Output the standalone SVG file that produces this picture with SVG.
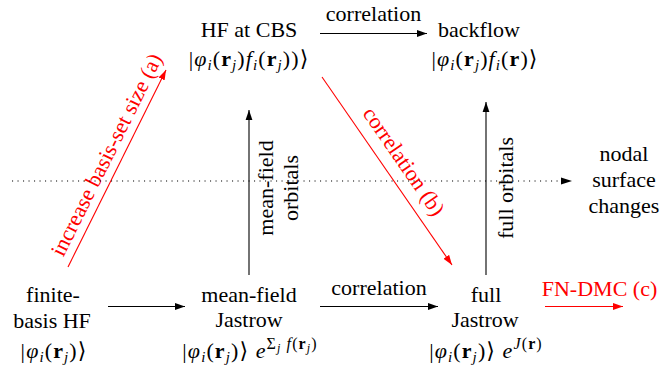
<svg xmlns="http://www.w3.org/2000/svg" width="662" height="373" viewBox="0 0 662 373">
<style>
text{font-family:"Liberation Serif","Times New Roman","DejaVu Serif",serif;font-size:22px;fill:#000}
.c{text-anchor:middle}
.f{letter-spacing:1.1px}
.red{fill:#f00}
.sub{font-size:15px;font-style:italic}
.sup{font-size:16px}
.ss{font-size:12px;font-style:italic}
.it{font-style:italic}
.bf{font-weight:bold}
.ln{stroke:#000;stroke-width:1.1;fill:none}
.rl{stroke:#f00;stroke-width:1.1;fill:none}
.dot{stroke:#000;stroke-width:1.1;fill:none;stroke-dasharray:1.1 4.4}
</style>
<defs>
<marker id="ah" markerUnits="userSpaceOnUse" markerWidth="10" markerHeight="8" refX="10" refY="4" orient="auto">
<path d="M0,0.6 L10,4 L0,7.4 z" fill="#000"/>
</marker>
<marker id="ahr" markerUnits="userSpaceOnUse" markerWidth="10" markerHeight="8" refX="10" refY="4" orient="auto">
<path d="M0,0.6 L10,4 L0,7.4 z" fill="#f00"/>
</marker>
</defs>

<g id="connectors">
<line class="ln" x1="320" y1="33.5" x2="427" y2="33.5" marker-end="url(#ah)"/>
<text class="c" x="373.5" y="21">correlation</text>
<line class="ln" x1="108" y1="306.5" x2="185" y2="306.5" marker-end="url(#ah)"/>
<line class="ln" x1="320" y1="306.5" x2="438" y2="306.5" marker-end="url(#ah)"/>
<text class="c" x="379" y="295">correlation</text>
<line class="rl" x1="545" y1="306.5" x2="623" y2="306.5" marker-end="url(#ahr)"/>
<line class="ln" x1="249" y1="275" x2="249" y2="110" marker-end="url(#ah)"/>
<text class="c" transform="translate(273,188) rotate(-90)">mean-field</text>
<text class="c" transform="translate(298,188) rotate(-90)">orbitals</text>
<line class="ln" x1="486" y1="275" x2="486" y2="102" marker-end="url(#ah)"/>
<text class="c" transform="translate(513,188) rotate(-90)">full orbitals</text>
<line class="rl" x1="68" y1="267" x2="166" y2="70" marker-end="url(#ahr)"/>
<text class="c red" transform="translate(113,158) rotate(-63.5)">increase basis-set size (a)</text>
<line class="rl" x1="322" y1="77" x2="452" y2="265" marker-end="url(#ahr)"/>
<text class="c red" transform="translate(398,165.5) rotate(55.3)">correlation (b)</text>
<line class="dot" x1="12" y1="181" x2="562" y2="181"/>
<path d="M561,177.5 L572,181 L561,184.5 z" fill="#000"/>
</g>

<g id="hf-cbs">
<text class="c" x="249" y="37">HF at CBS</text>
<text class="c f" x="249" y="66">|<tspan class="it">φ</tspan><tspan class="sub" dy="4">i</tspan><tspan dy="-4">(</tspan><tspan class="bf">r</tspan><tspan class="sub" dy="4">j</tspan><tspan dy="-4">)</tspan><tspan class="it">f</tspan><tspan class="sub" dy="4">i</tspan><tspan dy="-4">(</tspan><tspan class="bf">r</tspan><tspan class="sub" dy="4">j</tspan><tspan dy="-4">))⟩</tspan></text>
</g>

<g id="backflow">
<text class="c" x="479" y="37">backflow</text>
<text class="c f" x="485" y="66">|<tspan class="it">φ</tspan><tspan class="sub" dy="4">i</tspan><tspan dy="-4">(</tspan><tspan class="bf">r</tspan><tspan class="sub" dy="4">j</tspan><tspan dy="-4">)</tspan><tspan class="it">f</tspan><tspan class="sub" dy="4">i</tspan><tspan dy="-4">(</tspan><tspan class="bf">r</tspan><tspan>)⟩</tspan></text>
</g>

<g id="finite-basis-hf">
<text class="c" x="53" y="302">finite-</text>
<text class="c" x="52" y="328">basis HF</text>
<text class="c f" x="54" y="358">|<tspan class="it">φ</tspan><tspan class="sub" dy="4">i</tspan><tspan dy="-4">(</tspan><tspan class="bf">r</tspan><tspan class="sub" dy="4">j</tspan><tspan dy="-4">)⟩</tspan></text>
</g>

<g id="mean-field-jastrow">
<text class="c" x="249" y="302">mean-field</text>
<text class="c" x="249" y="327">Jastrow</text>
<text class="c f" x="250" y="358">|<tspan class="it">φ</tspan><tspan class="sub" dy="4">i</tspan><tspan dy="-4">(</tspan><tspan class="bf">r</tspan><tspan class="sub" dy="4">j</tspan><tspan dy="-4">)⟩ </tspan><tspan class="it">e</tspan><tspan class="sup" dy="-9">Σ</tspan><tspan class="ss" dy="3">j</tspan><tspan class="sup it" dy="-3"> f</tspan><tspan class="sup">(</tspan><tspan class="sup bf">r</tspan><tspan class="ss" dy="3">j</tspan><tspan class="sup" dy="-3">)</tspan></text>
</g>

<g id="full-jastrow">
<text class="c" x="486" y="302">full</text>
<text class="c" x="485" y="327">Jastrow</text>
<text class="c f" x="486" y="358">|<tspan class="it">φ</tspan><tspan class="sub" dy="4">i</tspan><tspan dy="-4">(</tspan><tspan class="bf">r</tspan><tspan class="sub" dy="4">j</tspan><tspan dy="-4">)⟩ </tspan><tspan class="it">e</tspan><tspan class="sup it" dy="-9">J</tspan><tspan class="sup">(</tspan><tspan class="sup bf">r</tspan><tspan class="sup">)</tspan></text>
</g>

<g id="nodal-surface-changes">
<text class="c" x="624" y="161">nodal</text>
<text class="c" x="624" y="187">surface</text>
<text class="c" x="624" y="213">changes</text>
</g>

<g id="fn-dmc">
<text class="c red" x="599.5" y="296">FN-DMC (c)</text>
</g>
</svg>
